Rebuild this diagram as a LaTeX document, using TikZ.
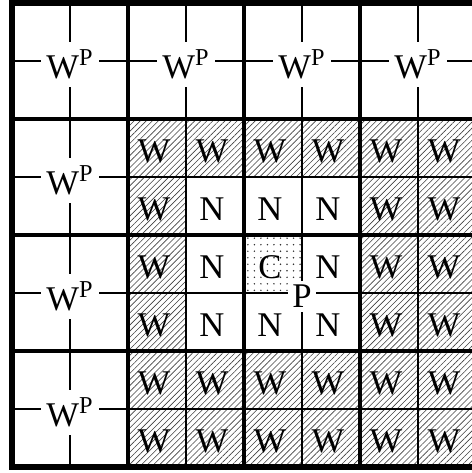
\documentclass[tikz,border=0pt]{standalone}
\usepackage{fontspec}
\setmainfont{Liberation Serif}
\usetikzlibrary{patterns.meta}

\begin{document}
\begin{tikzpicture}[x=1cm,y=1cm,
    every node/.style={font=\fontsize{17}{20}\selectfont,yshift=-1.7pt},
    fine/.style={line width=1pt},
    coarse/.style={line width=1.7pt},
    rim/.style={line width=2.6pt},
    hatch/.style={pattern={Lines[angle=45,distance=2.1pt,line width=0.3pt]},pattern color=black!75},
    dotty/.style={pattern={Dots[distance=3.2pt,radius=0.4pt]},pattern color=black!80},
    letter/.style={xshift=-1.5pt},
    tag/.style={fill=white,inner xsep=2.5pt,inner ysep=4pt}]
  \useasboundingbox (-0.207,-0.103) rectangle (7.931,8.052);
  \clip (-0.207,-0.103) rectangle (7.931,8.052);
  % hatched wall cells and the dotted centre cell
  \foreach \j in {0,1,5} \foreach \i in {2,...,7}
    \fill[hatch] (\i,\j) rectangle ++(1,1);
  \foreach \j in {2,3,4} \foreach \i in {2,6,7}
    \fill[hatch] (\i,\j) rectangle ++(1,1);
  \fill[dotty] (4,3) rectangle ++(1,1);
  % fine and coarse grid
  \draw[fine] (0,0) grid (8,8);
  \draw[coarse,step=2] (0,0) grid (8,8);
  \draw[rim] (0,0) rectangle (8,8);
  % cell letters
  \foreach \j in {0,1,5} \foreach \i in {2,...,7}
    \node[letter] (w\i\j) at (\i+0.5,\j+0.5) {W};
  \foreach \j in {2,3,4} \foreach \i in {2,6,7}
    \node[letter] (w\i\j) at (\i+0.5,\j+0.5) {W};
  \foreach \i/\j in {3/4, 4/4, 5/4, 3/3, 5/3, 3/2, 4/2, 5/2}
    \node[letter] (n\i\j) at (\i+0.5,\j+0.5) {N};
  \node[letter] (c) at (4.5,3.5) {C};
  % coarse cell labels on the crossings
  \foreach \x/\y [count=\k] in {1/7, 3/7, 5/7, 7/7, 1/5, 1/3, 1/1}
    \node[tag] (wp\k) at (\x,\y) {W\textsuperscript{P}};
  \node[fill=white,inner sep=2pt] (p) at (5,3) {P\hspace{4pt}};
\end{tikzpicture}
\end{document}
